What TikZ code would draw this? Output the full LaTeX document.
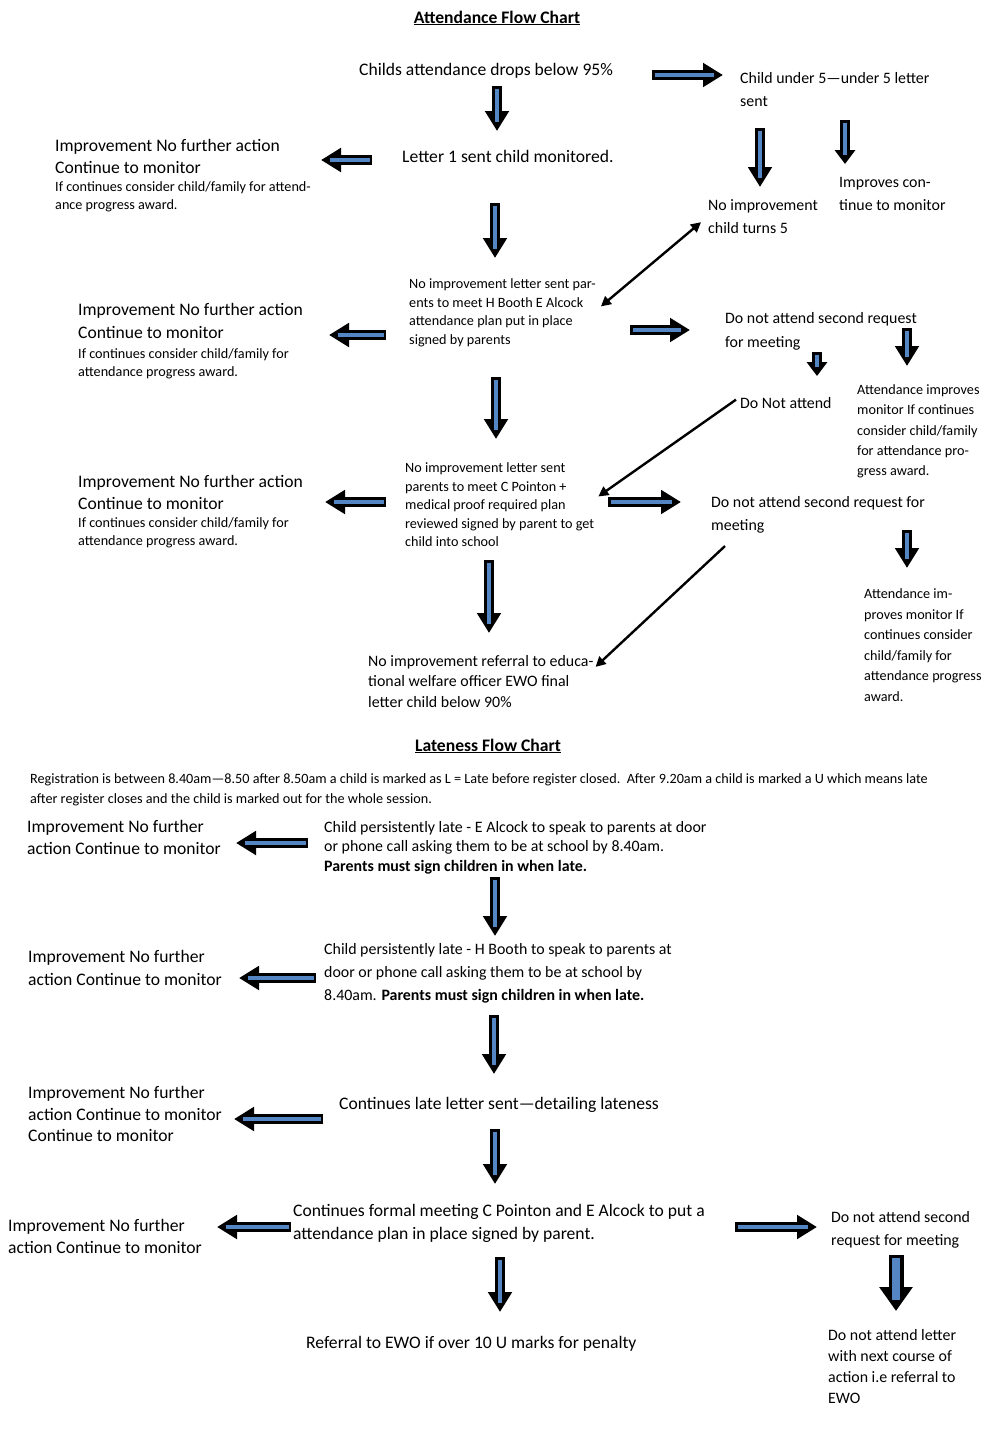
\documentclass[tikz,border=0pt]{standalone}
\usepackage{fontspec}
\setmainfont{Carlito}
\usetikzlibrary{arrows.meta,calc}
\definecolor{arrowblue}{RGB}{84,134,196}
\tikzset{
  txt/.style = {anchor=base west, align=left, inner sep=0pt},
  fs/.style 2 args = {font=\fontsize{#1}{#2}\selectfont},
  blkout/.style = {line width=10pt, -{Triangle[length=20pt,width=23pt]}},
  blksmall/.style = {-{Triangle[length=14pt,width=20pt]}},
  blkin/.style = {line width=4pt, arrowblue, shorten <=2.5pt, shorten >=9pt},
  thinarr/.style = {line width=2.4pt, -{Triangle[length=10pt,width=10pt]}}
}
\newcommand{\Blk}[4][]{%
  \coordinate (#2-s) at (#3);
  \coordinate (#2-e) at (#4);
  \draw[blkout,#1] (#2-s) -- (#2-e);
  \draw[blkin] (#2-s) -- (#2-e);}

\begin{document}
\begin{tikzpicture}[x=1pt,y=-1pt]
  \useasboundingbox (0,0) rectangle (996,1430);

  % attendance (nodes sit on the baseline of their last line)
  \node[anchor=base, inner sep=0pt, fs={17.6}{20}] (title1) at (497,23) {\bfseries\underline{Attendance Flow Chart}};

  \node[txt, fs={17.6}{22}] (start) at (359,75.6) {Childs attendance drops below 95\%};
  \node[txt, fs={15.9}{23}] (under5) at (740,106.1) {Child under 5---under 5 letter\\sent};
  \node[txt, fs={17.6}{22}] (letter1) at (402,162.6) {Letter 1 sent child monitored.};
  \node[txt, fs={17.6}{22}] (imp1) at (55,173.6) {Improvement No further action\\Continue to monitor};
  \node[txt, fs={14.2}{17.5}] (imp1n) at (55,209) {If continues consider child/family for attend-\\ance progress award.};
  \node[txt, fs={15.9}{23}] (nochild) at (708,233.1) {No improvement\\child turns 5};
  \node[txt, fs={15.9}{23}] (improves) at (839,210.1) {Improves con-\\tinue to monitor};

  \node[txt, fs={14.2}{18.7}] (letter2) at (409,344.6) {No improvement letter sent par-\\ents to meet H Booth E Alcock\\attendance plan put in place\\signed by parents};
  \node[txt, fs={17.6}{23}] (imp2) at (78,338.6) {Improvement No further action\\Continue to monitor};
  \node[txt, fs={14.2}{18}] (imp2n) at (78,376.5) {If continues consider child/family for\\attendance progress award.};
  \node[txt, fs={15.9}{24}] (dna1) at (725,347.1) {Do not attend second request\\for meeting};
  \node[txt, fs={15.9}{23}] (donot) at (740,408.1) {Do Not attend};
  \node[txt, fs={14.2}{20.3}] (attimp1) at (857,475.7) {Attendance improves\\monitor If continues\\consider child/family\\for attendance pro-\\gress award.};

  \node[txt, fs={14.2}{18.5}] (letter3) at (405,546.5) {No improvement letter sent\\parents to meet C Pointon +\\medical proof required plan\\reviewed signed by parent to get\\child into school};
  \node[txt, fs={17.6}{22}] (imp3) at (78,509.6) {Improvement No further action\\Continue to monitor};
  \node[txt, fs={14.2}{18}] (imp3n) at (78,545.5) {If continues consider child/family for\\attendance progress award.};
  \node[txt, fs={15.9}{23}] (dna2) at (711,530.1) {Do not attend second request for\\meeting};
  \node[txt, fs={14.2}{20.6}] (attimp2) at (864,701.5) {Attendance im-\\proves monitor If\\continues consider\\child/family for\\attendance progress\\award.};
  \node[txt, fs={15.9}{20.5}] (referral) at (368,707.1) {No improvement referral to educa-\\tional welfare officer EWO final\\letter child below 90\%};

  \Blk{b1}{652,75}{723,75}
  \Blk{b2}{497,86}{497,131}
  \Blk{b3}{372,160}{321,160}
  \Blk{b4}{495,203}{495,258}
  \Blk{b5}{760,128}{760,187}
  \Blk[blksmall]{b6}{845,120}{845,164}
  \Blk{b7}{630,330}{690,330}
  \Blk[blksmall]{b8}{817,352}{817,376}
  \Blk{b9}{907,328}{907,366}
  \Blk{b10}{386,335}{329,335}
  \Blk{b11}{496,377}{496,439}
  \Blk{b12}{386,502}{325,502}
  \Blk{b13}{608,502}{681,502}
  \Blk{b14}{907,530}{907,568}
  \Blk{b15}{489,560}{489,633}

  \draw[thinarr, {Triangle[length=10pt,width=10pt]}-{Triangle[length=10pt,width=10pt]}] ($(letter2.north east)+(5,28)$) -- ($(nochild.west)+(-7,6)$);
  \draw[thinarr] ($(donot.west)+(-4,-3)$) -- ($(letter3.north east)+(4,34)$);
  \draw[thinarr] ($(dna2.south west)+(14,13)$) -- ($(referral.north east)+(2,12)$);

  % lateness
  \node[anchor=base, inner sep=0pt, fs={17.6}{20}] (title2) at (488,751) {\bfseries\underline{Lateness Flow Chart}};
  \node[txt, fs={14.2}{20}] (reg) at (30,803.3) {Registration is between 8.40am---8.50 after 8.50am a child is marked as L = Late before register closed.\ \ After 9.20am a child is marked a U which means late\\after register closes and the child is marked out for the whole session.};

  \node[txt, fs={17.6}{22}] (limp1) at (27,854.6) {Improvement No further\\action Continue to monitor};
  \node[txt, fs={15.9}{19.5}] (late1) at (324,871.1) {Child persistently late - E Alcock to speak to parents at door\\or phone call asking them to be at school by 8.40am.\\\textbf{Parents must sign children in when late.}};
  \node[txt, fs={17.6}{23}] (limp2) at (28,985.6) {Improvement No further\\action Continue to monitor};
  \node[txt, fs={15.9}{23}] (late2) at (324,1000.1) {Child persistently late - H Booth to speak to parents at\\door or phone call asking them to be at school by\\8.40am. \textbf{Parents must sign children in when late.}};
  \node[txt, fs={17.6}{21.5}] (limp3) at (28,1141.6) {Improvement No further\\action Continue to monitor\\Continue to monitor};
  \node[txt, fs={17.6}{22}] (late3) at (339,1109.6) {Continues late letter sent---detailing lateness};
  \node[txt, fs={17.6}{23}] (late4) at (293,1239.6) {Continues formal meeting C Pointon and E Alcock to put a\\attendance plan in place signed by parent.};
  \node[txt, fs={17.6}{22}] (limp4) at (8,1253.6) {Improvement No further\\action Continue to monitor};
  \node[txt, fs={15.9}{23}] (ldna) at (831,1245.1) {Do not attend second\\request for meeting};
  \node[txt, fs={15.9}{21}] (ldnl) at (828,1403.1) {Do not attend letter\\with next course of\\action i.e referral to\\EWO};
  \node[txt, fs={17.6}{22}] (lref) at (306,1348.6) {Referral to EWO if over 10 U marks for penalty};

  \Blk{c1}{308,843}{236,843}
  \Blk{c2}{495,877}{495,936}
  \Blk{c3}{316,978}{239,978}
  \Blk{c4}{494,1015}{494,1074}
  \Blk{c5}{323,1119}{234,1119}
  \Blk{c6}{495,1129}{495,1184}
  \Blk{c7}{291,1227}{217,1227}
  \Blk{c8}{735,1227}{817,1227}
  \Blk{c9}{500,1257}{500,1312}
  \coordinate (c10-s) at (896,1255);
  \coordinate (c10-e) at (896,1311);
  \draw[line width=15pt, -{Triangle[length=24pt,width=32pt]}] (c10-s) -- (c10-e);
  \draw[line width=8pt, arrowblue, shorten <=3pt, shorten >=11pt] (c10-s) -- (c10-e);
\end{tikzpicture}
\end{document}
